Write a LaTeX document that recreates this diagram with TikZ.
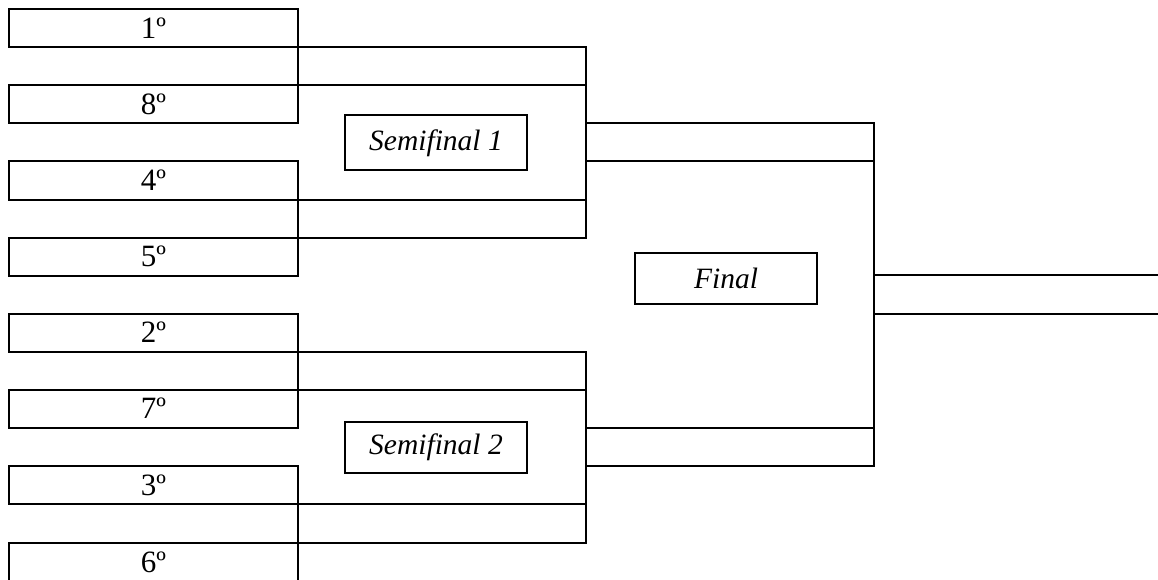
\documentclass[tikz,border=0pt]{standalone}
\usepackage{fontspec}
\setmainfont{Liberation Serif}
\begin{document}
\begin{tikzpicture}[x=1pt,y=-1pt,line width=2pt,
  seedbox/.style={draw, minimum width=289pt, minimum height=38pt, inner sep=0pt, outer sep=0pt, anchor=north west, font=\fontsize{31}{31}\selectfont},
  slotbox/.style={draw, minimum width=288pt, inner sep=0pt, outer sep=0pt, anchor=north west},
  stagebox/.style={draw, line width=2pt, minimum width=182pt, inner sep=0pt, outer sep=0pt, font=\fontsize{29.5}{29.5}\selectfont\itshape}]
\useasboundingbox (0,0) rectangle (1158,580);
% first round
\node[seedbox] (r1) at (9,9) {1º};
\node[seedbox] (r8) at (9,85) {8º};
\node[seedbox] (r4) at (9,161.5) {4º};
\node[seedbox] (r5) at (9,237.5) {5º};
\node[seedbox] (r2) at (9,313.5) {2º};
\node[seedbox] (r7) at (9,389.5) {7º};
\node[seedbox] (r3) at (9,466) {3º};
\node[seedbox] (r6) at (9,543) {6º};
% quarter winners
\node[slotbox, minimum height=38pt] (q1) at (r1.south east) {};
\node[slotbox, minimum height=38pt] (q2) at (r4.south east) {};
\node[slotbox, minimum height=38pt] (q3) at (r2.south east) {};
\node[slotbox, minimum height=39pt] (q4) at (r3.south east) {};
\draw (q1.north east) -- (q2.south east);
\draw (q3.north east) -- (q4.south east);
% semifinal winners
\node[slotbox, minimum height=38.5pt] (s1) at (586,123) {};
\node[slotbox, minimum height=38.5pt] (s2) at (586,427.5) {};
\draw (s1.north east) -- (s2.south east);
% final
\coordinate (ft) at (874,275);
\coordinate (fte) at (1162,275);
\coordinate (fb) at (874,313.5);
\coordinate (fbe) at (1162,313.5);
\draw (ft) -- (fte);
\draw (fb) -- (fbe);
% labels
\node[stagebox, minimum height=55pt] (sf1) at (436,143) {Semifinal 1};
\node[stagebox, minimum height=51pt] (sf2) at (436,447) {Semifinal 2};
\node[stagebox, minimum height=51pt] (fin) at (726,278.5) {Final};
\end{tikzpicture}
\end{document}
